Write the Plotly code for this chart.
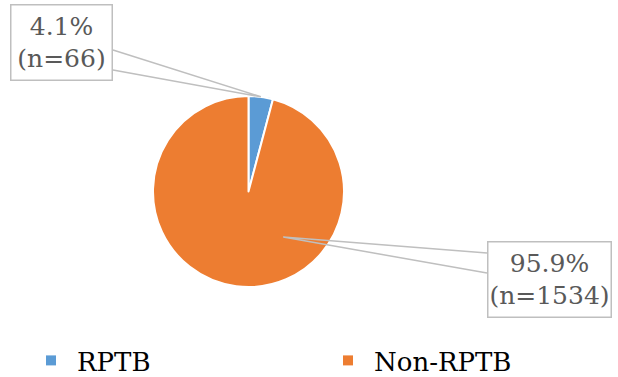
import math
import plotly.graph_objects as go

labels = ["RPTB", "Non-RPTB"]
counts = [66, 1534]
pct_text = ["4.1%", "95.9%"]
colors = ["#5b9bd5", "#ed7d31"]

W, H = 618, 377
cx, cy, R = 248.5, 191.5, 95.5
SERIF = "DejaVu Serif, serif"

fig = go.Figure()
fig.add_trace(go.Pie(
    labels=labels, values=counts, sort=False, direction="clockwise", rotation=0,
    marker=dict(colors=colors, line=dict(color="white", width=2)),
    textinfo="none", hoverinfo="label+value+percent", showlegend=False,
    domain=dict(x=[(cx - R) / W, (cx + R) / W], y=[(H - cy - R) / H, (H - cy + R) / H]),
))
# legend-only entries (one per slice) so each can sit in its own legend column
for i in range(2):
    fig.add_trace(go.Scatter(x=[None], y=[None], mode="markers", name=labels[i],
                             marker=dict(symbol="square", size=10, color=colors[i]),
                             hoverinfo="skip",
                             legend="legend" if i == 0 else "legend2"))

def px2paper(x, y):
    return x / W, 1 - y / H

total = sum(counts)
mid1 = 360 * counts[0] / total / 2
anchors = [(mid1, 1.0), (142.7, 0.6)]
boxes = [(10, 4, 113, 81), (487, 241, 612, 318)]
wedge_y = [(50, 70), (253, 273)]
shapes = []
annotations = []
for i in range(2):
    ang, rf = anchors[i]
    ax = cx + R * rf * math.sin(math.radians(ang))
    ay = cy - R * rf * math.cos(math.radians(ang))
    l, t, r, b = boxes[i]
    ex = r if i == 0 else l
    p1 = px2paper(ex, wedge_y[i][0])
    pa = px2paper(ax, ay)
    p2 = px2paper(ex, wedge_y[i][1])
    shapes.append(dict(type="path", xref="paper", yref="paper",
                       path=f"M {p1[0]} {p1[1]} L {pa[0]} {pa[1]} L {p2[0]} {p2[1]}",
                       line=dict(color="#bfbfbf", width=1.5), layer="above"))
    c = px2paper((l + r) / 2, (t + b) / 2)
    annotations.append(dict(
        xref="paper", yref="paper", x=c[0], y=c[1], xanchor="center", yanchor="middle",
        text=f"{pct_text[i]}<br>(n={counts[i]})", showarrow=False,
        font=dict(family=SERIF, size=25, color="#595959"),
        width=r - l - 3, height=b - t - 3, borderpad=0, borderwidth=1.5,
        bordercolor="#bfbfbf", bgcolor="white", align="center", valign="middle",
    ))

leg_common = dict(orientation="h", xanchor="left", y=-7 / H, yanchor="bottom",
                  itemwidth=42, bgcolor="rgba(0,0,0,0)",
                  font=dict(family=SERIF, size=26, color="black"))
fig.update_layout(
    width=W, height=H, margin=dict(l=0, r=0, t=0, b=0, autoexpand=False),
    paper_bgcolor="white", plot_bgcolor="white",
    xaxis=dict(visible=False), yaxis=dict(visible=False),
    shapes=shapes, annotations=annotations,
    showlegend=True,
    legend=dict(x=25 / W, **leg_common),
    legend2=dict(x=322 / W, **leg_common),
)
fig.write_html("out.html")
